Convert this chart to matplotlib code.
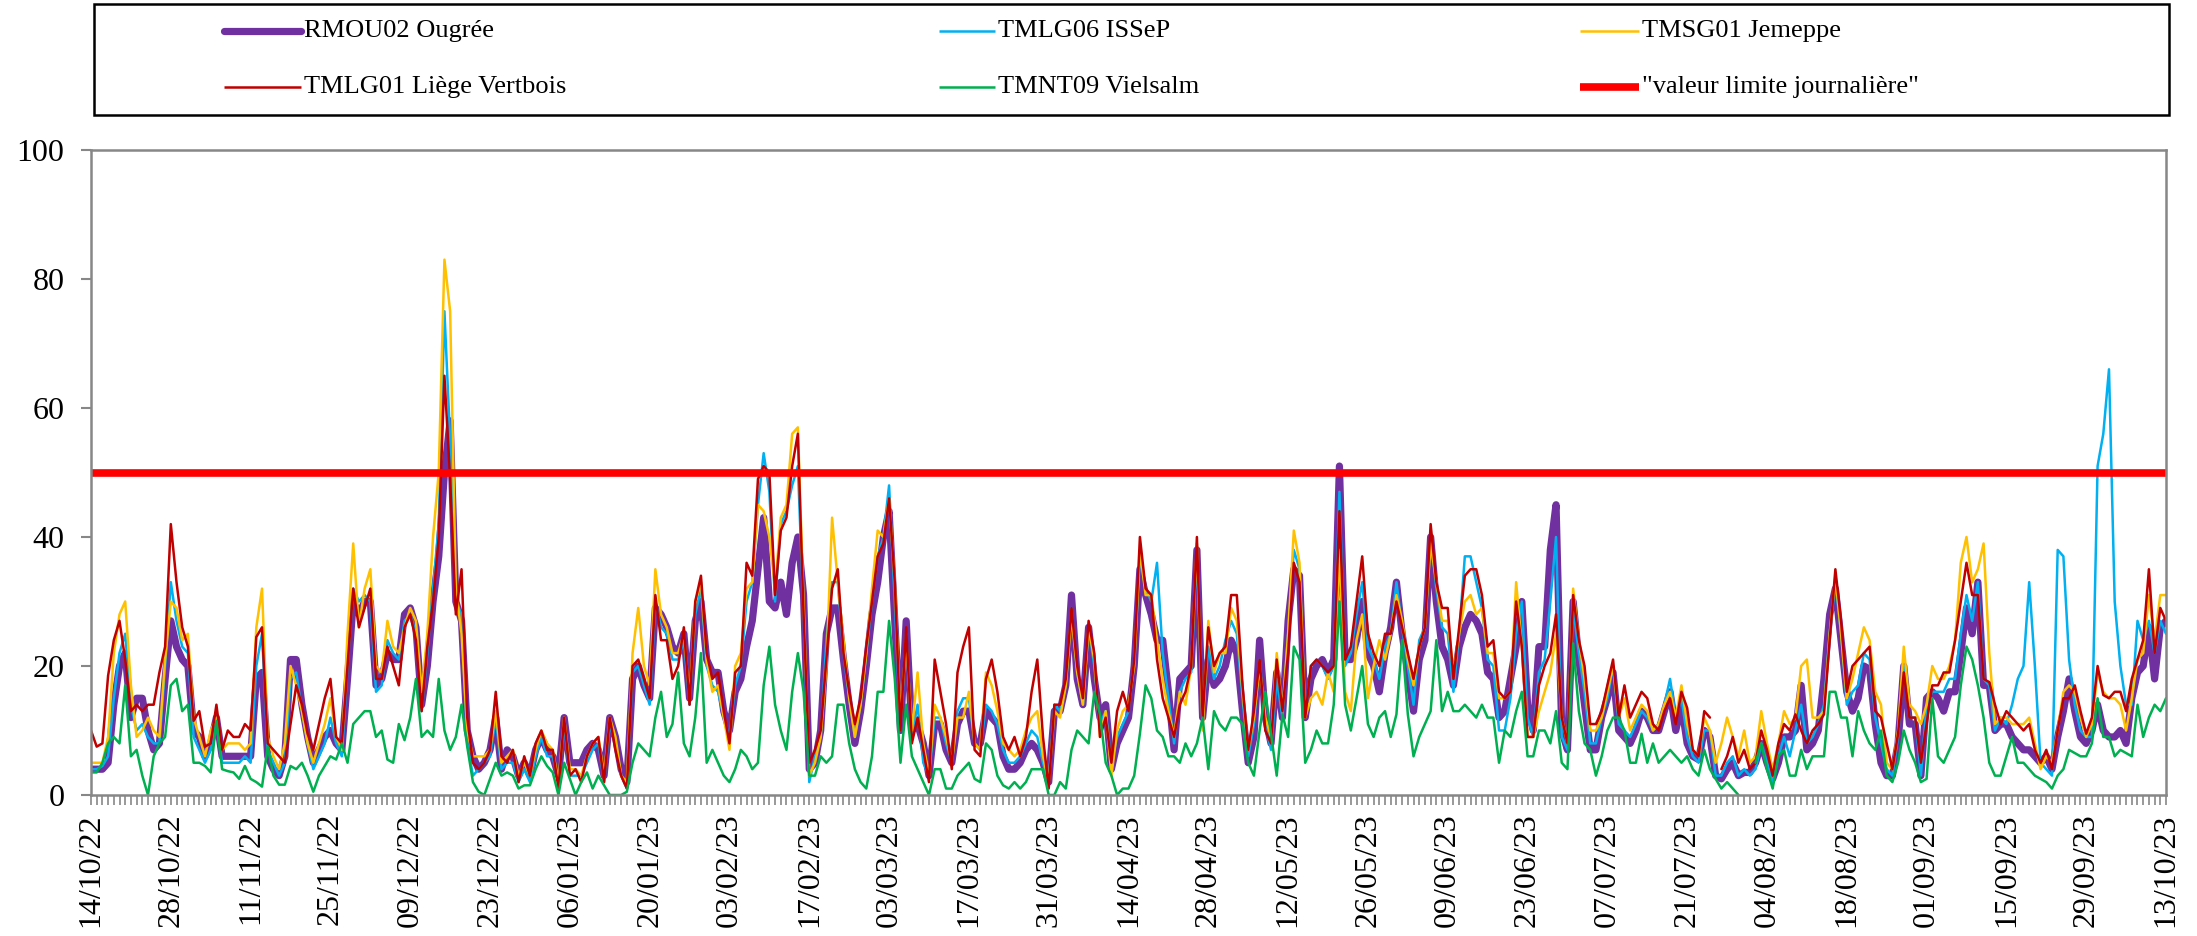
import matplotlib
matplotlib.use('Agg')
import matplotlib.pyplot as plt
import matplotlib.dates as mdates
from matplotlib.ticker import FixedLocator
from matplotlib.lines import Line2D
from matplotlib.patches import Rectangle
import numpy as np
import pandas as pd

# -------------------------------------------------------------------------------------------------------------------- #
# Data (daily PM10 means, ug/m3)
# -------------------------------------------------------------------------------------------------------------------- #

nan = np.nan
start_date = '2022-10-14'
n_days = 365
limit_value = 50
tick_step = 14

labels = ['RMOU02 Ougrée', 'TMLG06 ISSeP', 'TMSG01 Jemeppe',
          'TMLG01 Liège Vertbois', 'TMNT09 Vielsalm', '"valeur limite journalière"']

rmou02 = [
    4, 4, 4, 5, 14, 20, 22, 12, 15, 15,
    10, 7, 8, 18, 27, 23, 21, 20, 10, 9,
    6, 8, 12, 6, 6, 6, 6, 6, 6, 18,
    19, 6, 4, 3, 6, 21, 21, 14, 9, 5,
    7, 9, 10, 8, 7, 18, 30, 28, 30, 30,
    17, 18, 22, 21, 21, 28, 29, 26, 14, 20,
    30, 37, 50, 58, 30, 27, 10, 6, 4, 5,
    7, 12, 4, 7, 6, 3, 5, 3, 7, 9,
    7, 6, 3, 12, 5, 5, 5, 7, 8, 7,
    3, 12, 9, 4, 2, 18, 20, 17, 15, 29,
    28, 26, 23, 22, 25, 15, 27, 30, 21, 19,
    19, 13, 10, 16, 18, 23, 27, 35, 43, 30,
    29, 33, 28, 36, 40, 31, 4, 5, 10, 25,
    29, 29, 21, 14, 8, 13, 20, 28, 33, 40,
    44, 27, 10, 27, 10, 11, 8, 3, 11, 11,
    7, 5, 11, 13, 13, 8, 8, 13, 12, 11,
    6, 4, 4, 5, 7, 8, 7, 5, 2, 13,
    13, 17, 31, 18, 14, 26, 18, 12, 14, 4,
    8, 10, 12, 20, 35, 31, 28, 24, 24, 16,
    7, 18, 19, 20, 38, 12, 21, 17, 18, 20,
    24, 22, 13, 5, 9, 24, 12, 8, 19, 12,
    27, 35, 34, 12, 18, 20, 21, 19, 21, 51,
    21, 21, 24, 30, 22, 20, 16, 22, 26, 33,
    25, 19, 13, 21, 24, 40, 30, 23, 21, 17,
    23, 26, 28, 27, 25, 19, 18, 12, 13, 18,
    23, 30, 14, 10, 23, 23, 38, 45, 10, 7,
    30, 21, 14, 7, 7, 12, 15, 19, 10, 9,
    8, 10, 13, 12, 10, 10, 13, 16, 10, 14,
    8, 6, 5.5, 10, 9, 3, 2.5, 4, 5, 3,
    3.5, 3.5, 5, 8, 5, 2.5, 5, 9, 9, 10,
    17, 7, 8, 10, 18, 28, 32, 24, 16, 13,
    15, 20, 19.5, 11, 5, 3, 3, 8, 20, 11,
    11, 3, 15, 16, 15, 13, 16, 16, 22, 29,
    25, 33, 17, 17, 10, 11, 11, 9, 8, 7,
    7, 6, 5, 6, 4, 9, 13, 18, 13, 9,
    8, 10, 14, 10, 9, 9, 10, 8, 15, 19,
    20, 26, 18, 26, 27,
]

tmlg06 = [
    4, 4, 4.5, 6, 15, 22, 25, 14, 10, 11,
    9, 8, 8, 20, 33, 27, 23, 22, 9, 7,
    5, 7, 11, 5, 5, 5, 5, 6, 5, 20,
    25, 7, 5, 3, 5, 18, 19, 13, 8, 4,
    6, 8, 12, 8, 6, 20, 32, 30, 31, 30,
    16, 17, 24, 22, 21, 27, 28, 25, 13, 22,
    32, 42, 75, 55, 30, 28, 8, 3, 4, 5,
    6, 12, 4, 5, 5, 2, 4, 2, 6, 9,
    6, 6, 2, 11, 3, 3, 3, 5, 7, 8,
    2, 11, 8, 3, 1, 19, 20, 17, 14, 30,
    26, 25, 21, 21, 24, 14, 28, 32, 20, 17,
    16, 12, 9, 17, 20, 30, 33, 45, 53, 47,
    30, 42, 44, 48, 51, 28, 2, 6, 9, 24,
    33, 33, 22, 15, 9, 14, 22, 30, 37, 40,
    48, 30, 10, 25, 9, 14, 5, 3, 12, 12,
    8, 5, 13, 15, 15, 8, 7, 14, 13, 11,
    7, 5, 5, 6, 8, 10, 9, 5, 2, 14,
    13, 17, 29, 19, 14, 26, 20, 11, 13, 5,
    9, 11, 13, 21, 37, 32, 30, 36, 22, 15,
    8, 16, 18, 19, 38, 12, 23, 18, 20, 24,
    27, 25, 15, 6, 11, 21, 11, 7, 18, 12,
    25, 38, 35, 12, 20, 21, 20, 18, 20, 47,
    20, 22, 28, 33, 23, 21, 18, 23, 25, 33,
    26, 20, 14, 24, 26, 40, 32, 26, 25, 16,
    25, 37, 37, 33, 29, 21, 20, 10, 10, 15,
    25, 30, 12, 9, 19, 21, 30, 40, 9, 7,
    29, 22, 16, 8, 8, 12, 15, 20, 11, 10,
    9, 11, 13, 12, 10, 11, 14, 18, 12, 15,
    9, 6, 5, 10, 10, 3, 3, 5, 6, 3,
    4, 3, 4, 8, 5, 2, 6, 9, 6, 10,
    14, 8, 9, 11, 14, 25, 33, 25, 14, 16,
    17, 22, 21, 12, 8, 4, 3, 9, 20, 12,
    12, 3, 14, 16, 16, 16, 18, 18, 25, 31,
    27, 33, 18, 17, 10, 12, 11, 14, 18, 20,
    33, 20, 5, 4, 3, 38, 37, 21, 14, 10,
    9, 9, 51, 56, 66, 30, 20, 14, 14, 27,
    24, 27, 22, 27, 25,
]

tmsg01 = [
    5, 5, 5, 9, 22, 28, 30, 17, 9, 10,
    12, 10, 9, 21, 30, 29, 24, 25, 12, 9,
    6, 10, 12, 7, 8, 8, 8, 7, 8, 26,
    32, 9, 6, 4, 8, 20, 17, 13, 8, 5,
    8, 11, 15, 9, 7, 25, 39, 26, 32, 35,
    20, 19, 27, 23, 22, 26, 29, 27, 16, 25,
    40, 50, 83, 75, 32, 25, 10, 6, 6, 6,
    7, 13, 5, 6, 7, 3, 5, 3, 7, 10,
    8, 7, 2, 12, 4, 4, 3, 6, 8, 9,
    3, 12, 9, 3, 2, 22, 29, 20, 17, 35,
    28, 26, 22, 22, 25, 15, 30, 33, 21, 16,
    17, 12, 7, 20, 22, 32, 33, 45, 44, 40,
    32, 43, 45, 56, 57, 30, 3, 5, 9, 20,
    43, 33, 24, 15, 9, 14, 22, 32, 41, 40,
    46, 33, 12, 24, 10, 19, 8, 3, 14, 12,
    9, 5, 12, 12, 16, 8, 7, 19, 17, 13,
    8, 7, 6, 7, 10, 12, 13, 6, 2, 13,
    12, 17, 28, 19, 14, 26, 21, 9, 13, 3,
    10, 13, 14, 20, 38, 31, 31, 24, 18, 13,
    9, 16, 14, 20, 39, 10, 27, 19, 22, 22,
    29, 27, 16, 7, 12, 20, 12, 9, 22, 13,
    25, 41, 36, 12, 15, 16, 14, 19, 16, 38,
    16, 13, 24, 28, 15, 20, 24, 21, 25, 31,
    27, 21, 17, 23, 26, 39, 33, 27, 27, 19,
    25, 30, 31, 28, 29, 22, 22, 15, 15, 16,
    33, 23, 9, 9, 13, 16, 19, 25, 12, 8,
    32, 24, 18, 10, 10, 12, 16, 20, 12, 15,
    10, 12, 14, 13, 10, 11, 14, 16, 12, 17,
    11, 7, 6, 12, 10, 5, 8, 12, 9, 6,
    10, 5, 6, 13, 8, 4, 8, 13, 11, 12,
    20, 21, 12, 12, 13, 25, 34, 25, 15, 18,
    22, 26, 24, 16, 14, 5, 4, 10, 23, 14,
    13, 11, 14, 20, 18, 18, 20, 24, 36, 40,
    33, 35, 39, 22, 11, 12, 12, 11, 11, 11,
    12, 8, 4, 6, 5, 10, 16, 17, 16, 12,
    9, 11, 19, 16, 15, 15, 14, 10, 15, 21,
    22, 31, 24, 31, 31,
]

tmlg01 = [
    10, 7.5, 8, 18.5, 24, 27, 21, 13, 14, 13,
    14, 14, 19, 23, 42, 33, 26, 23, 11.5, 13,
    7.5, 8, 14, 7, 10, 9, 9, 11, 10, 24.5,
    26, 8, 7, 6, 5, 11, 17, 14, 9.5, 7,
    11, 15, 18, 9, 8, 20, 32, 26, 29, 32,
    18, 18, 23, 20, 17, 26, 28, 24, 13, 23,
    30, 40, 65, 49, 28, 35, 12, 5, 4, 5,
    7, 16, 6, 5, 7, 2, 6, 3, 8, 10,
    7, 7, 1, 12, 3, 4, 2, 6, 8, 9,
    2, 12, 7, 3, 1, 20, 21, 18, 15, 31,
    24, 24, 18, 20, 26, 14, 30, 34, 22, 18,
    19, 13, 8, 19, 20, 36, 34, 49, 51, 50,
    31, 41, 43, 51, 56, 28, 5, 7, 10, 21,
    32, 35, 22, 16, 11, 15, 23, 30, 37, 39,
    46, 33, 10, 26, 8, 12, 7, 2, 21, 16,
    11, 4, 19, 23, 26, 7, 6, 18, 21, 16,
    9, 7, 9, 6, 9, 16, 21, 9, 1, 14,
    14, 18, 29, 20, 15, 27, 22, 9, 12, 5,
    13, 16, 13, 21, 40, 32, 31, 21, 15, 12,
    9, 14, 16, 20, 40, 12, 26, 20, 22, 23,
    31, 31, 17, 7, 13, 21, 10, 8, 21, 13,
    22, 36, 33, 12, 20, 21, 20, 19, 20, 44,
    21, 23, 30, 37, 25, 22, 20, 25, 25, 30,
    26, 22, 18, 23, 26, 42, 33, 29, 29, 18,
    26, 34, 35, 35, 31, 23, 24, 16, 15, 16,
    30, 23, 9, 9, 17, 20, 22, 28, 12, 8,
    31, 24, 20, 11, 11, 13, 17, 21, 12, 17,
    12, 14, 16, 15, 11, 10, 13, 15, 11, 16,
    13.5, 7, 6, 13, 12, nan, 4, 6, 9, 5,
    7, 4, 5, 10, 7, 3, 8, 11, 10, 12.5,
    10, 8, 10, 11, 12.5, 24, 35, 27, 16, 20,
    21, 22, 23, 13, 12, 8, 4, 9.5, 19, 12,
    12, 5, 11, 17, 17, 19, 19, 24, 30, 36,
    31, 31, 18, 17.5, 14, 11, 13, 12, 11, 10,
    11, 7, 5, 7, 4, 10, 15, 15, 17, 13,
    9.5, 12, 20, 15.5, 15, 16, 16, 13, 18, 21,
    24, 35, 22, 29, 27,
]

tmnt09 = [
    3.5, 3.5, 5, 8, 9, 8, 17, 6, 7, 3,
    0, 6, 8, 9, 17, 18, 13, 14, 5, 5,
    4.5, 3.5, 11.5, 4, 3.7, 3.5, 2.5, 4.5, 2.5, 2,
    1.3, 7.5, 3, 1.6, 1.6, 4.5, 4, 5, 3, 0.5,
    3, 4.5, 6, 5.5, 8, 5, 11, 12, 13, 13,
    9, 10, 5.5, 5, 11, 8.5, 12, 18, 9, 10,
    9, 18, 10, 7, 9, 14, 7.5, 2, 0.5, 0,
    2.5, 5, 3, 3.5, 3, 1, 1.5, 1.5, 4, 6,
    4.5, 3.5, 0, 5, 2.5, 0, 2, 3.5, 1, 3,
    1.5, 0, 0, 0, 0.5, 5, 8, 7, 6, 12,
    16, 9, 11, 19, 8, 6, 12, 22, 5, 7,
    5, 3, 2, 4, 7, 6, 4, 5, 17, 23,
    14, 10, 7, 16, 22, 16, 3, 3, 6, 5,
    6, 14, 14, 8, 4, 2, 1, 6, 16, 16,
    27, 18, 5, 14, 6, 4, 2, 0, 4, 4,
    1, 1, 3, 4, 5, 2.5, 2, 8, 7, 3,
    1.5, 1, 2, 1, 2, 4, 4, 4, 0, 0,
    2, 1, 7, 10, 9, 8, 16, 12.5, 5, 3,
    0, 1, 1, 3, 9.5, 17, 15, 10, 9, 6,
    6, 5, 8, 6, 8, 12, 4, 13, 11, 10,
    12, 12, 11, 5, 3, 10, 16, 9.5, 3, 12.5,
    9, 23, 21, 5, 7, 10, 8, 8, 14, 30,
    14, 10, 15, 20, 11, 9, 12, 13, 9, 12.5,
    24, 12.5, 6, 9, 11, 13, 24, 13, 16, 13,
    13, 14, 13, 12, 14, 12, 12, 5, 10, 9,
    13, 16, 6, 6, 10, 10, 8, 13, 5, 4,
    23.5, 13, 8, 7, 3, 6, 10, 12, 12, 10,
    5, 5, 9.5, 5, 8, 5, 6, 7, 6, 5,
    6, 4, 3, 7, 4, 2.5, 1, 2, 1, 0,
    nan, nan, 5, 8, 4, 1, 6, 7, 3, 3,
    7, 4, 6, 6, 6, 16, 16, 12, 12, 6,
    13, 10, 8, 7, 10, 3, 2, 5, 10, 7,
    5, 2, 2.5, 15, 6, 5, 7, 9, 17, 23,
    21, 17, 12, 5, 3, 3, 6, 9, 5, 5,
    4, 3, 2.5, 2, 1, 3, 4, 7, 6.5, 6,
    6, 8, 15, 9, 9, 6, 7, 6.5, 6, 14,
    9, 12, 14, 13, 15,
]

# -------------------------------------------------------------------------------------------------------------------- #
# Settings
# -------------------------------------------------------------------------------------------------------------------- #

W, H = 2197, 936
font = 'Liberation Serif'
grey = '#878787'
colors = ['#7030A0', '#00B0F0', '#FFC000', '#C00000', '#00B050', '#FF0000']
widths = [5.2, 1.8, 1.8, 1.8, 1.8, 5.5]

plt.rcParams['font.family'] = [font, 'DejaVu Serif']

# -------------------------------------------------------------------------------------------------------------------- #
# Main
# -------------------------------------------------------------------------------------------------------------------- #

dates = pd.date_range(start_date, periods=n_days, freq='D')
series = [rmou02, tmlg06, tmsg01, tmlg01, tmnt09]

fig = plt.figure(figsize=(W / 100, H / 100), dpi=100)
ax = fig.add_axes([91 / W, 1 - 795 / H, (2166 - 91) / W, (795 - 150) / H])

for vals, col, lw in zip(series, colors[:5], widths[:5]):
    ax.plot(dates, vals, color=col, lw=lw, solid_joinstyle='round', solid_capstyle='round')
ax.plot(dates, [limit_value] * n_days, color=colors[5], lw=widths[5])

ax.set_xlim(dates[0], dates[-1])
ax.set_ylim(0, 100)
ax.set_yticks(range(0, 101, 20))

ax.xaxis.set_major_locator(FixedLocator(mdates.date2num(dates[::tick_step])))
ax.xaxis.set_major_formatter(mdates.DateFormatter('%d/%m/%y'))
ax.xaxis.set_minor_locator(mdates.DayLocator())

ax.tick_params(axis='x', which='both', direction='out', length=7, width=1.2, color=grey,
               labelsize=23, labelrotation=90, pad=6)
ax.tick_params(axis='y', direction='out', length=7, width=1.5, color=grey, labelsize=23, pad=12)
for s in ax.spines.values():
    s.set_color(grey)
    s.set_linewidth(1.8)

# Legend box, drawn by hand to match the column layout
fig.add_artist(Rectangle((94 / W, 1 - 115 / H), (2169 - 94) / W, (115 - 4) / H,
                         transform=fig.transFigure, fill=False, ec='black', lw=1.8))
handle_x = [(224, 301), (939, 995), (1580, 1639)]
text_x = [304, 998, 1642]
row_y = [31, 87]
for i, lab in enumerate(labels):
    r, c = divmod(i, 3)
    y = 1 - row_y[r] / H
    x0, x1 = handle_x[c]
    fig.add_artist(Line2D([x0 / W, x1 / W], [y, y], transform=fig.transFigure,
                          color=colors[i], lw=widths[i], solid_capstyle='round' if i == 0 else 'butt'))
    fig.text(text_x[c] / W, y, lab, fontsize=19, va='center', ha='left')

fig.savefig('out.png', dpi=100)
